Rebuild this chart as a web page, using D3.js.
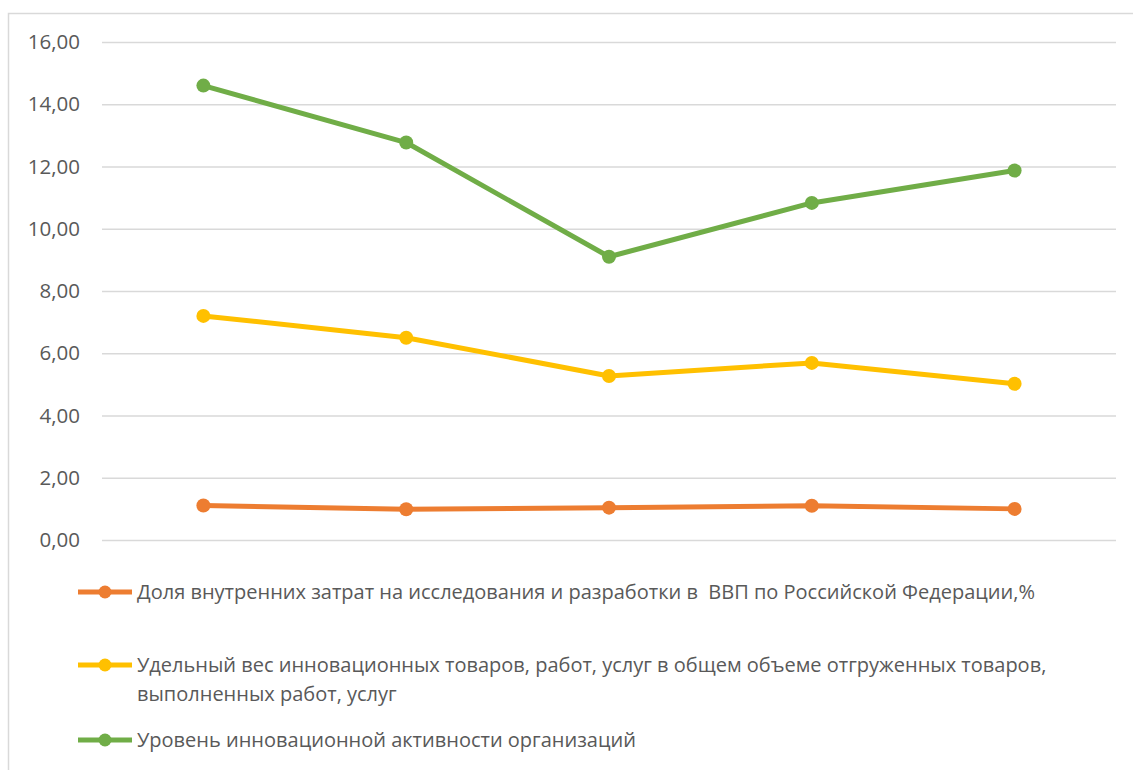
<!DOCTYPE html>
<html><head><meta charset="utf-8">
<script src="https://cdn.jsdelivr.net/npm/d3@7"></script>
<style>body{margin:0;background:#fff}svg{display:block}text{font-family:"Open Sans",sans-serif}</style>
</head><body>
<svg id="c" width="1133" height="770"></svg>
<script>
const categories = ["1","2","3","4","5"];
const seriesNames = [
  ["Доля внутренних затрат на исследования и разработки в  ВВП по Российской Федерации,%"],
  ["Удельный вес инновационных товаров, работ, услуг в общем объеме отгруженных товаров,", "выполненных работ, услуг"],
  ["Уровень инновационной активности организаций"]
];
const rdShare = [1.11, 0.99, 1.04, 1.10, 1.00];
const innovGoods = [7.2, 6.5, 5.27, 5.69, 5.02];
const innovActivity = [14.6, 12.77, 9.1, 10.83, 11.87];
const colors = ["#ED7D31", "#FFC000", "#70AD47"];
const yTicks = [0,2,4,6,8,10,12,14,16];

const series = [rdShare, innovGoods, innovActivity];
const svg = d3.select("#c");
svg.append("rect").attr("x",8.5).attr("y",13.5).attr("width",1140).attr("height",800)
  .attr("fill","#fff").attr("stroke","#d9d9d9").attr("stroke-width",1.5);

const x = d3.scaleBand().domain(categories).range([102,1116]);
const y = d3.scaleLinear().domain([0,16]).range([540,42]);

const ax = svg.append("g").attr("transform","translate(102,0)")
  .call(d3.axisLeft(y).tickValues(yTicks).tickSize(-1014).tickPadding(22)
    .tickFormat(d => d3.format(".2f")(d).replace(".",",")));
ax.select(".domain").remove();
ax.selectAll(".tick line").attr("stroke","#d9d9d9").attr("stroke-width",1.5);
ax.selectAll(".tick text").attr("fill","#595959").style("font-size","20.5px").style("font-family","'Open Sans',sans-serif");

const line = d3.line().x((d,i)=>x(categories[i])+x.bandwidth()/2).y(d=>y(d));
series.forEach((s,k)=>{
  svg.append("path").datum(s).attr("d",line).attr("fill","none")
    .attr("stroke",colors[k]).attr("stroke-width",5).attr("stroke-linejoin","round");
  svg.selectAll(null).data(s).enter().append("circle")
    .attr("cx",(d,i)=>x(categories[i])+x.bandwidth()/2).attr("cy",d=>y(d)).attr("r",7)
    .attr("fill",colors[k]);
});

const legY = [592, 665, 740];
seriesNames.forEach((lines,k)=>{
  const g = svg.append("g");
  g.append("line").attr("x1",78).attr("x2",132).attr("y1",legY[k]).attr("y2",legY[k])
    .attr("stroke",colors[k]).attr("stroke-width",5);
  g.append("circle").attr("cx",105).attr("cy",legY[k]).attr("r",6.5).attr("fill",colors[k]);
  lines.forEach((t,j)=>{
    g.append("text").attr("x",137).attr("y",legY[k]+7+j*29).attr("fill","#595959")
      .style("font-size","20px").style("white-space","pre").text(t);
  });
});
</script>
</body></html>
